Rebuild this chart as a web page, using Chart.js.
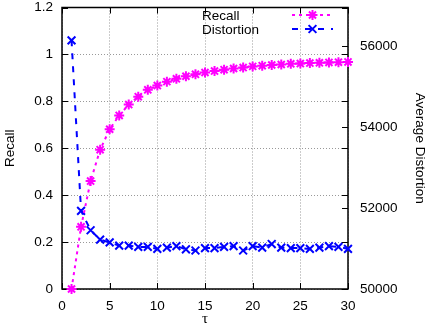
<!DOCTYPE html>
<html>
<head>
<meta charset="utf-8">
<script src="https://cdn.jsdelivr.net/npm/chart.js@4.4.0/dist/chart.umd.min.js"></script>
<style>
  html, body { margin: 0; padding: 0; background: #fff; }
  #wrap { width: 430px; height: 328px; }
</style>
</head>
<body>
<div id="wrap"><canvas id="chart" width="430" height="328"></canvas></div>
<script>
// values
const tau = [1, 2, 3, 4, 5, 6, 7, 8, 9, 10, 11, 12, 13, 14, 15,
             16, 17, 18, 19, 20, 21, 22, 23, 24, 25, 26, 27, 28, 29, 30];
const recall = [0, 0.265, 0.46, 0.594, 0.681, 0.74, 0.786, 0.82, 0.849, 0.867,
                0.884, 0.896, 0.907, 0.915, 0.923, 0.929, 0.935, 0.94, 0.944, 0.949,
                0.952, 0.955, 0.957, 0.96, 0.961, 0.963, 0.964, 0.966, 0.967, 0.968];
const distortion = [56140, 51930, 51450, 51220, 51150, 51070, 51070, 51040, 51040, 50990,
                    51020, 51060, 50980, 50950, 51010, 51010, 51040, 51060, 50950, 51060,
                    51020, 51110, 51020, 51010, 51010, 50990, 51020, 51060, 51040, 50990];
const seriesNames = ['Recall', 'Distortion'];
const axisTitles = { x: '\u03c4', y: 'Recall', y2: 'Average Distortion' };
const xTicks = [0, 5, 10, 15, 20, 25, 30];
const yTicks = [0, 0.2, 0.4, 0.6, 0.8, 1, 1.2];
const y2Ticks = [50000, 52000, 54000, 56000];

const FONT = 'Liberation Sans, Arial, sans-serif';
const tickFont = { family: FONT, size: 13.5 };

// gnuplot-like frame with inward tick marks
const framePlugin = {
    id: 'frame',
    beforeDatasetsDraw(chart) {
        const { ctx, chartArea: a, scales } = chart;
        const len = 6;
        ctx.save();
        ctx.strokeStyle = '#000';
        ctx.lineWidth = 1;
        ctx.beginPath();
        scales.x.ticks.forEach(t => {
            const px = Math.round(scales.x.getPixelForValue(t.value)) + 0.5;
            ctx.moveTo(px, a.bottom); ctx.lineTo(px, a.bottom - len);
            ctx.moveTo(px, a.top); ctx.lineTo(px, a.top + len);
        });
        scales.y.ticks.forEach(t => {
            const py = Math.round(scales.y.getPixelForValue(t.value)) + 0.5;
            ctx.moveTo(a.left, py); ctx.lineTo(a.left + len, py);
            ctx.moveTo(a.right, py); ctx.lineTo(a.right - len, py);
        });
        scales.y2.ticks.forEach(t => {
            const py = Math.round(scales.y2.getPixelForValue(t.value)) + 0.5;
            ctx.moveTo(a.right, py); ctx.lineTo(a.right - len, py);
        });
        ctx.stroke();
        ctx.lineWidth = 1.5;
        ctx.strokeRect(a.left, a.top, a.right - a.left, a.bottom - a.top);
        ctx.restore();
    }
};

// key in the top right corner: text on the left, sample on the right
const keyPlugin = {
    id: 'key',
    afterDatasetsDraw(chart) {
        const { ctx } = chart;
        ctx.save();
        chart.data.datasets.forEach((ds, i) => {
            const y = 15 + i * 14;
            ctx.fillStyle = '#000';
            ctx.font = '13.5px ' + FONT;
            ctx.textBaseline = 'middle';
            ctx.textAlign = 'left';
            ctx.fillText(ds.label, 202, y + 1);

            ctx.strokeStyle = ds.borderColor;
            ctx.lineWidth = ds.borderWidth;
            ctx.setLineDash(ds.borderDash);
            ctx.beginPath();
            ctx.moveTo(292, y);
            ctx.lineTo(333, y);
            ctx.stroke();
            ctx.setLineDash([]);
            ctx.fillStyle = ds.borderColor;
            ctx.lineWidth = ds.pointBorderWidth;
            Chart.helpers.drawPoint(ctx, {
                pointStyle: ds.pointStyle, rotation: 0,
                radius: ds.pointRadius, borderWidth: ds.pointBorderWidth
            }, 312.5, y);
        });
        ctx.restore();
    }
};

const fixedTicks = list => s => { s.ticks = list.map(v => ({ value: v })); };

new Chart(document.getElementById('chart'), {
    type: 'line',
    data: {
        datasets: [
            {
                label: seriesNames[0],
                data: tau.map((t, i) => ({ x: t, y: recall[i] })),
                yAxisID: 'y',
                borderColor: '#ff00ff',
                backgroundColor: '#ff00ff',
                borderWidth: 2,
                borderDash: [3, 4],
                pointStyle: 'star',
                pointRadius: 5,
                pointBorderWidth: 2,
                clip: false
            },
            {
                label: seriesNames[1],
                data: tau.map((t, i) => ({ x: t, y: distortion[i] })),
                yAxisID: 'y2',
                borderColor: '#0000ff',
                backgroundColor: '#0000ff',
                borderWidth: 2,
                borderDash: [6, 7],
                pointStyle: 'crossRot',
                pointRadius: 5.5,
                pointBorderWidth: 2,
                clip: false
            }
        ]
    },
    options: {
        responsive: false,
        animation: false,
        layout: { padding: { top: 5, left: 0, right: 0, bottom: 0 } },
        plugins: { legend: { display: false }, tooltip: { enabled: false } },
        elements: { line: { tension: 0 } },
        scales: {
            x: {
                type: 'linear', min: 0, max: 30,
                afterBuildTicks: fixedTicks(xTicks),
                ticks: { color: '#000', font: tickFont, padding: 9, maxRotation: 0,
                         callback: v => String(v) },
                grid: { color: '#999', drawTicks: false },
                border: { display: false, dash: [1, 2] },
                title: { display: true, text: axisTitles.x, color: '#000',
                         font: { family: 'Liberation Serif, DejaVu Serif, serif', size: 15 },
                         padding: { top: 0, bottom: 0 } },
                afterFit(s) { s.height = 39; s.paddingLeft = 0; s.paddingRight = 0; }
            },
            y: {
                type: 'linear', position: 'left', min: 0, max: 1.2,
                afterBuildTicks: fixedTicks(yTicks),
                ticks: { color: '#000', font: tickFont, padding: 9,
                         callback: v => String(+v.toFixed(1)) },
                grid: { color: '#999', drawTicks: false },
                border: { display: false, dash: [1, 2] },
                title: { display: true, text: axisTitles.y, color: '#000',
                         font: { family: FONT, size: 13.5 }, padding: { top: 2, bottom: 0 } },
                afterFit(s) { s.width = 62; s.paddingTop = 0; s.paddingBottom = 0; }
            },
            y2: {
                type: 'linear', position: 'right', min: 50000, max: 56950,
                afterBuildTicks: fixedTicks(y2Ticks),
                ticks: { color: '#000', font: tickFont, padding: 12,
                         callback: v => String(v) },
                grid: { drawOnChartArea: false, drawTicks: false },
                border: { display: false },
                title: { display: true, text: axisTitles.y2, color: '#000',
                         font: { family: FONT, size: 13.5 }, padding: { top: 2, bottom: 0 } },
                afterFit(s) { s.width = 82; s.paddingTop = 0; s.paddingBottom = 0; }
            }
        }
    },
    plugins: [framePlugin, keyPlugin]
});
</script>
</body>
</html>
